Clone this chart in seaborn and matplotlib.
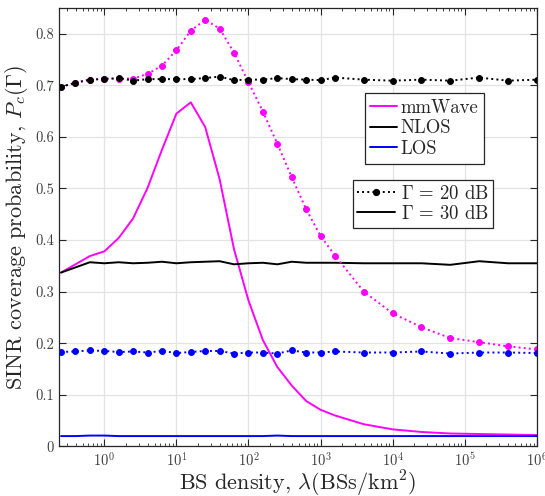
import seaborn as sns
import pandas as pd
import numpy as np
import matplotlib.pyplot as plt
from matplotlib.lines import Line2D
from matplotlib.ticker import FixedLocator, FuncFormatter

sns.set_theme(style='ticks')
plt.rcParams['font.family'] = ['serif']
plt.rcParams['font.serif'] = ['cmr10']
plt.rcParams['mathtext.fontset'] = 'cm'
plt.rcParams['axes.unicode_minus'] = False
plt.rcParams['axes.formatter.use_mathtext'] = True

# BS density, log10 of BSs/km^2
density_exp = [-0.6, -0.4, -0.2, 0.0, 0.2, 0.4, 0.6, 0.8, 1.0, 1.2, 1.4, 1.6, 1.8,
               2.0, 2.2, 2.4, 2.6, 2.8, 3.0, 3.2, 3.6, 4.0, 4.4, 4.8, 5.2, 5.6, 6.0]

# coverage probability, Gamma = 20 dB
mmwave_20 = [0.697, 0.705, 0.711, 0.713, 0.713, 0.713, 0.722, 0.738, 0.768, 0.806, 0.827,
             0.810, 0.763, 0.706, 0.649, 0.587, 0.522, 0.460, 0.408, 0.370, 0.300, 0.258,
             0.231, 0.210, 0.202, 0.194, 0.188]
nlos_20 = [0.697, 0.705, 0.711, 0.712, 0.714, 0.709, 0.712, 0.712, 0.712, 0.712, 0.714,
           0.717, 0.710, 0.711, 0.711, 0.714, 0.712, 0.711, 0.710, 0.715, 0.711, 0.709,
           0.711, 0.709, 0.715, 0.709, 0.711]
los_20 = [0.183, 0.184, 0.186, 0.185, 0.183, 0.184, 0.182, 0.185, 0.181, 0.183, 0.185,
          0.185, 0.180, 0.182, 0.182, 0.180, 0.186, 0.182, 0.182, 0.184, 0.182, 0.182,
          0.184, 0.180, 0.182, 0.182, 0.181]

# coverage probability, Gamma = 30 dB
mmwave_30 = [0.337, 0.353, 0.369, 0.378, 0.404, 0.442, 0.501, 0.575, 0.645, 0.667, 0.619,
             0.518, 0.382, 0.283, 0.206, 0.154, 0.118, 0.088, 0.071, 0.060, 0.043, 0.033,
             0.028, 0.025, 0.024, 0.023, 0.022]
nlos_30 = [0.337, 0.347, 0.357, 0.355, 0.357, 0.355, 0.356, 0.358, 0.355, 0.357, 0.358,
           0.359, 0.353, 0.355, 0.356, 0.353, 0.358, 0.356, 0.356, 0.356, 0.355, 0.355,
           0.355, 0.352, 0.359, 0.355, 0.355]
los_30 = [0.020, 0.020, 0.021, 0.021, 0.020, 0.020, 0.020, 0.020, 0.020, 0.020, 0.020,
          0.020, 0.020, 0.020, 0.020, 0.021, 0.020, 0.020, 0.020, 0.020, 0.020, 0.020,
          0.020, 0.020, 0.020, 0.020, 0.020]

density = [10 ** e for e in density_exp]
df = pd.DataFrame({'density': density,
                   'mmwave_20': mmwave_20, 'nlos_20': nlos_20, 'los_20': los_20,
                   'mmwave_30': mmwave_30, 'nlos_30': nlos_30, 'los_30': los_30})

MAG = (1, 0, 1)
BLK = (0, 0, 0)
BLU = (0, 0, 1)
dark = '#262626'
LW = 1.4

fig = plt.figure(figsize=(5.45, 4.96), dpi=100)
ax = fig.add_axes([0.108, 0.1, 0.877, 0.884])

# solid lines (30 dB)
for col, c in [('mmwave_30', MAG), ('nlos_30', BLK), ('los_30', BLU)]:
    sns.lineplot(data=df, x='density', y=col, color=c, lw=LW, ax=ax)

# dotted with markers (20 dB)
for col, c in [('mmwave_20', MAG), ('nlos_20', BLK), ('los_20', BLU)]:
    sns.lineplot(data=df, x='density', y=col, color=c, lw=LW, ls=':',
                 marker='o', markersize=4.2, markeredgecolor=c, ax=ax)

ax.set_xscale('log')
ax.set_xlim(10 ** -0.63, 1e6)
ax.set_ylim(0, 0.85)
ax.yaxis.set_major_locator(FixedLocator([0, 0.1, 0.2, 0.3, 0.4, 0.5, 0.6, 0.7, 0.8]))
ax.yaxis.set_major_formatter(FuncFormatter(lambda v, p: '%g' % round(v, 2)))

ax.grid(True, which='major', color='#e3e3e3', lw=0.9)
ax.set_axisbelow(True)
ax.tick_params(which='both', direction='in', top=True, right=True, colors=dark,
               labelsize=10.5)
ax.tick_params(axis='both', labelcolor='#404040')
ax.tick_params(which='major', length=5, width=0.8)
ax.tick_params(which='minor', length=2.5, width=0.6)
for s in ax.spines.values():
    s.set_color(dark)
    s.set_linewidth(0.9)

ax.set_xlabel(r'BS density, $\lambda(\mathrm{BSs/km}^2)$', fontsize=16, color=dark,
              labelpad=0)
ax.set_ylabel(r'SINR coverage probability, $P_c(\Gamma)$', fontsize=16, color=dark,
              labelpad=4)

# legends
h1 = [Line2D([], [], color=MAG, lw=LW), Line2D([], [], color=BLK, lw=LW),
      Line2D([], [], color=BLU, lw=LW)]
leg1 = ax.legend(h1, ['mmWave', 'NLOS', 'LOS'], loc='upper left',
                 bbox_to_anchor=(0.64, 0.806), borderaxespad=0, fontsize=13.5,
                 fancybox=False, edgecolor=dark, framealpha=1, handlelength=1.4,
                 handletextpad=0.2, labelspacing=0.15, borderpad=0.3)
leg1.get_frame().set_linewidth(0.9)
ax.add_artist(leg1)

h2 = [Line2D([], [], color=BLK, lw=LW, ls=':', marker='o', markersize=4.2),
      Line2D([], [], color=BLK, lw=LW)]
leg2 = ax.legend(h2, [r'$\Gamma\,=\,20$ dB', r'$\Gamma\,=\,30$ dB'], loc='upper left',
                 bbox_to_anchor=(0.615, 0.607), borderaxespad=0, fontsize=13.5,
                 fancybox=False, edgecolor=dark, framealpha=1, handlelength=2.0,
                 handletextpad=0.3, labelspacing=0.1, borderpad=0.25)
leg2.get_frame().set_linewidth(0.9)

plt.savefig('out.png', dpi=100)
